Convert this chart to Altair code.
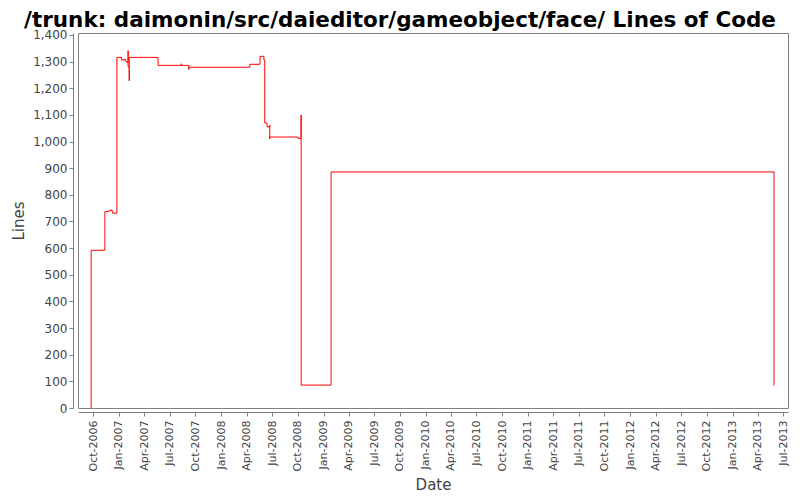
import altair as alt
import pandas as pd

TITLE = "/trunk: daimonin/src/daieditor/gameobject/face/ Lines of Code"

# Lines of code history (step chart, value holds until next change)
dates = [
    "2006-09-24", "2006-09-24", "2006-11-12", "2006-11-25", "2006-12-02",
    "2006-12-08", "2006-12-10", "2006-12-25", "2007-01-11", "2007-01-19",
    "2007-01-24", "2007-01-29", "2007-02-03", "2007-02-03", "2007-02-07",
    "2007-02-07", "2007-05-21", "2007-08-12", "2007-08-12", "2007-09-08",
    "2007-09-08", "2008-04-13", "2008-05-19", "2008-06-02", "2008-06-05",
    "2008-06-13", "2008-06-23", "2008-06-23", "2008-06-23", "2008-10-02",
    "2008-10-13", "2008-10-13", "2009-01-28", "2013-05-29",
]
lines = [
    0, 592, 737, 740, 743,
    737, 731, 1316, 1306, 1309,
    1302, 1297, 1341, 1281, 1228,
    1316, 1286, 1292, 1286, 1271,
    1279, 1290, 1320, 1306, 1070,
    1055, 1062, 1010, 1017, 1012,
    1100, 86, 886, 84,
]
y_ticks = list(range(0, 1401, 100))

df = pd.DataFrame({"Date": dates, "Lines": lines, "idx": list(range(len(dates)))})

FONT = "DejaVu Sans"
GRAY = "#808080"
LABEL = "#444444"

line = (
    alt.Chart(df)
    .mark_line(color="#ff0000", strokeWidth=1, interpolate="step-after")
    .encode(
        x=alt.X(
            "Date:T",
            scale=alt.Scale(
                type="utc",
                domain=[
                    alt.DateTime(year=2006, month=8, date=8, utc=True),
                    alt.DateTime(year=2013, month=7, date=18, utc=True),
                ],
                nice=False,
            ),
            axis=alt.Axis(
                title="Date",
                format="%b-%Y",
                tickCount={"interval": "month", "step": 3},
                labelAngle=-90,
                labelFontSize=11,
                labelPadding=4,
                titlePadding=7,
                offset=4,
                grid=False,
            ),
        ),
        y=alt.Y(
            "Lines:Q",
            scale=alt.Scale(domain=[0, 1407.5], nice=False, zero=True),
            axis=alt.Axis(
                title="Lines",
                values=y_ticks,
                format=",d",
                labelFontSize=12,
                labelPadding=2,
                titlePadding=6,
                offset=5,
                grid=False,
            ),
        ),
        order="idx:Q",
    )
)

title = (
    alt.Chart(pd.DataFrame({"t": [TITLE]}))
    .mark_text(
        font=FONT,
        fontSize=21.5,
        fontWeight="bold",
        color="#000000",
        align="center",
        baseline="alphabetic",
    )
    .encode(text="t:N", x=alt.value(322), y=alt.value(-6))
)

chart = (
    alt.layer(line, title)
    .properties(
        width=710,
        height=375,
        autosize=alt.AutoSizeParams(type="none"),
        padding={"left": 70, "top": 25, "right": 4, "bottom": 92},
    )
    .configure_view(stroke=GRAY, strokeWidth=1)
    .configure_axis(
        domainColor=GRAY,
        tickColor=GRAY,
        tickSize=4,
        labelColor=LABEL,
        labelFont=FONT,
        titleFont=FONT,
        titleColor=LABEL,
        titleFontSize=15,
        titleFontWeight="normal",
    )
)

chart.save("out.html", embed_options={"renderer": "svg", "actions": False})
